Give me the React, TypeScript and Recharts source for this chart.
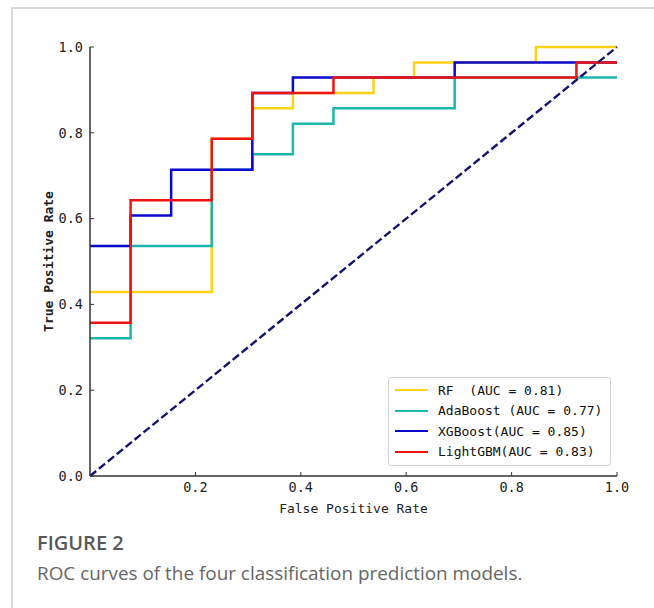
import React from 'react';
import { LineChart, Line, XAxis, YAxis, Legend } from 'recharts';

// ROC step points (False Positive Rate, True Positive Rate)
const rfFpr = [0, 0.231, 0.308, 0.385, 0.538, 0.615, 0.846, 1];
const rfTpr = [0.429, 0.786, 0.857, 0.893, 0.929, 0.964, 1.0, 1.0];
const adaFpr = [0, 0.077, 0.231, 0.308, 0.385, 0.462, 0.692, 1];
const adaTpr = [0.321, 0.536, 0.714, 0.75, 0.821, 0.857, 0.929, 0.929];
const xgbFpr = [0, 0.077, 0.154, 0.308, 0.385, 0.692, 1];
const xgbTpr = [0.536, 0.607, 0.714, 0.893, 0.929, 0.964, 0.964];
const lgbFpr = [0, 0.077, 0.231, 0.308, 0.462, 0.923, 1];
const lgbTpr = [0.357, 0.643, 0.786, 0.893, 0.929, 0.964, 0.964];
const chanceFpr = [0, 1];
const chanceTpr = [0, 1];

const seriesNames = [
  'RF  (AUC = 0.81)',
  'AdaBoost (AUC = 0.77)',
  'XGBoost(AUC = 0.85)',
  'LightGBM(AUC = 0.83)',
];
const seriesColors = ['#FFD21A', '#1DB5B0', '#0A0ACD', '#EE1414'];

const xTicks = [0.2, 0.4, 0.6, 0.8, 1.0];
const yTicks = [0, 0.2, 0.4, 0.6, 0.8, 1.0];

const zip = (xs: number[], ys: number[]) => xs.map((x, i) => ({ x, y: ys[i] }));

const rfData = zip(rfFpr, rfTpr);
const adaData = zip(adaFpr, adaTpr);
const xgbData = zip(xgbFpr, xgbTpr);
const lgbData = zip(lgbFpr, lgbTpr);
const chanceData = zip(chanceFpr, chanceTpr);

const MONO = 'DejaVu Sans Mono';
const tickStyle = { fontFamily: MONO, fontSize: 13.5, fill: '#222' };

const renderLegend = () => (
  <div
    style={{
      border: '1px solid #d4d4d4',
      borderRadius: 3,
      background: 'rgba(255,255,255,0.85)',
      padding: '2px 6px 3px 6px',
      width: 223,
      boxSizing: 'border-box',
    }}
  >
    {seriesNames.map((name, i) => (
      <div key={name} style={{ display: 'flex', alignItems: 'center', height: 20.5 }}>
        <span
          style={{
            display: 'inline-block',
            width: 33,
            height: 2,
            background: seriesColors[i],
            marginRight: 10,
          }}
        />
        <span style={{ fontFamily: MONO, fontSize: 13, whiteSpace: 'pre', color: '#111' }}>
          {name}
        </span>
      </div>
    ))}
  </div>
);

export default function App() {
  const lineCommon = {
    dataKey: 'y',
    type: 'stepAfter' as const,
    dot: false,
    activeDot: false,
    strokeWidth: 2.5,
    strokeLinejoin: 'miter' as const,
    isAnimationActive: false,
  };
  return (
    <div
      style={{
        position: 'absolute',
        left: 0,
        top: 0,
        width: 654,
        height: 608,
        overflow: 'hidden',
        background: '#fff',
      }}
    >
      <div
        style={{
          position: 'absolute',
          left: 11,
          top: 7,
          width: 700,
          height: 700,
          borderTop: '2px solid #d9d9d9',
          borderLeft: '2px solid #d9d9d9',
        }}
      />
      <div style={{ position: 'absolute', left: 0, top: 0 }}>
        <LineChart width={654} height={530} margin={{ top: 47, right: 37, bottom: 14, left: 0 }}>
          <XAxis
            dataKey="x"
            type="number"
            domain={[0, 1]}
            ticks={xTicks}
            interval={0}
            tickFormatter={(v: number) => v.toFixed(1)}
            tick={tickStyle}
            tickSize={-4}
            tickMargin={10}
            height={40}
            stroke="#333"
            axisLine={{ stroke: '#333', strokeWidth: 1.5 }}
            tickLine={{ stroke: '#333', strokeWidth: 1 }}
            label={{
              value: 'False Positive Rate',
              position: 'insideBottom',
              offset: 3,
              fontFamily: MONO,
              fontSize: 13,
              fill: '#222',
            }}
          />
          <XAxis
            xAxisId="top"
            orientation="top"
            type="number"
            domain={[0, 1]}
            height={0}
            tick={false}
            tickLine={false}
            axisLine={{ stroke: '#333', strokeWidth: 1.5 }}
          />
          <YAxis
            type="number"
            domain={[0, 1]}
            ticks={yTicks}
            interval={0}
            tickFormatter={(v: number) => v.toFixed(1)}
            tick={tickStyle}
            tickSize={-4}
            tickMargin={11}
            width={90}
            axisLine={{ stroke: '#333', strokeWidth: 1.5 }}
            tickLine={{ stroke: '#333', strokeWidth: 1 }}
            label={{
              value: 'True Positive Rate',
              angle: -90,
              position: 'center',
              dx: 3,
              fontFamily: MONO,
              fontSize: 13,
              fontWeight: 'bold',
              fill: '#222',
            }}
          />
          <YAxis
            yAxisId="right"
            orientation="right"
            type="number"
            domain={[0, 1]}
            width={0}
            tick={false}
            tickLine={false}
            axisLine={{ stroke: '#333', strokeWidth: 1.5 }}
          />
          <Line {...lineCommon} data={rfData} name={seriesNames[0]} stroke={seriesColors[0]} />
          <Line {...lineCommon} data={adaData} name={seriesNames[1]} stroke={seriesColors[1]} />
          <Line {...lineCommon} data={xgbData} name={seriesNames[2]} stroke={seriesColors[2]} />
          <Line {...lineCommon} data={lgbData} name={seriesNames[3]} stroke={seriesColors[3]} />
          <Line
            data={chanceData}
            dataKey="y"
            type="linear"
            dot={false}
            activeDot={false}
            stroke="#14146e"
            strokeWidth={2.4}
            strokeDasharray="8 3.5"
            legendType="none"
            isAnimationActive={false}
          />
          <Legend
            layout="vertical"
            align="center"
            verticalAlign="middle"
            content={renderLegend}
            wrapperStyle={{ position: 'absolute', left: 388, top: 377, width: 'auto', height: 'auto' }}
          />
        </LineChart>
      </div>
      <div
        style={{
          position: 'absolute',
          left: 37,
          top: 530,
          fontFamily: '"Open Sans", sans-serif',
          fontWeight: 600,
          fontSize: 20,
          color: '#585858',
          lineHeight: '26px',
        }}
      >
        FIGURE 2
      </div>
      <div
        style={{
          position: 'absolute',
          left: 37,
          top: 560,
          fontFamily: '"Open Sans", sans-serif',
          fontWeight: 400,
          fontSize: 18.9,
          color: '#666',
          lineHeight: '26px',
          whiteSpace: 'nowrap',
        }}
      >
        ROC curves of the four classification prediction models.
      </div>
    </div>
  );
}
